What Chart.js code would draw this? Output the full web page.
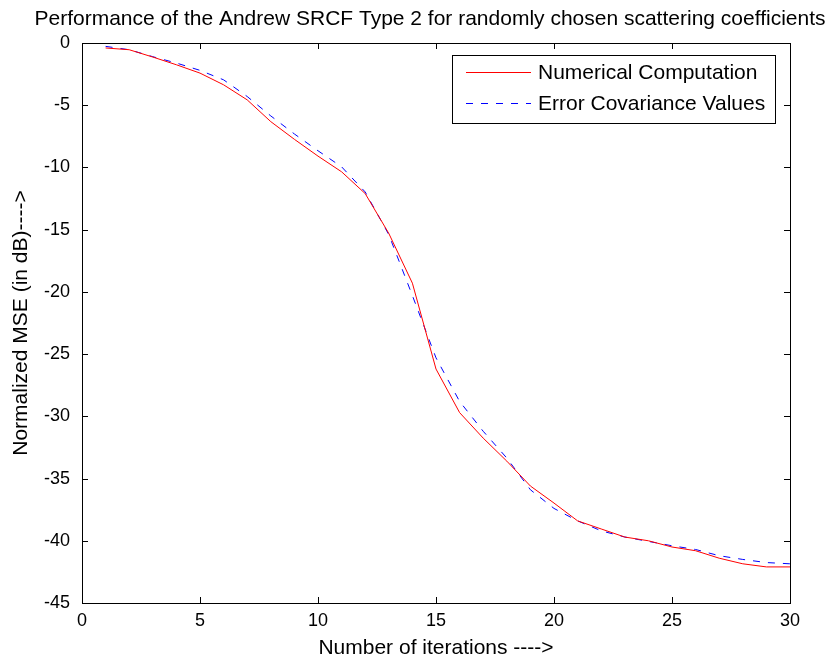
<!DOCTYPE html>
<html lang="en">
<head>
    <meta charset="UTF-8">
    <title>Performance of the Andrew SRCF Type 2</title>
    <script src="https://cdn.jsdelivr.net/npm/chart.js"></script>
    <style>
        body {
            margin: 0;
            background-color: #ffffff;
        }
        #chart-container {
            width: 839px;
            height: 661px;
        }
    </style>
</head>
<body>
    <div id="chart-container">
        <canvas id="mseChart" width="839" height="661"></canvas>
    </div>
    <script>
        // iterations 1..30
        const iterations = [1, 2, 3, 4, 5, 6, 7, 8, 9, 10, 11, 12, 13, 14, 15,
                            16, 17, 18, 19, 20, 21, 22, 23, 24, 25, 26, 27, 28, 29, 30];
        const numericalMse = [-0.4, -0.54, -1.13, -1.75, -2.42, -3.36, -4.57, -6.32, -7.74, -9.09,
                              -10.35, -12.1, -15.3, -19.3, -26.2, -29.7, -31.75, -33.6, -35.6, -36.97,
                              -38.4, -39.05, -39.7, -40.0, -40.5, -40.8, -41.4, -41.85, -42.1, -42.1];
        const covarianceMse = [-0.27, -0.54, -1.1, -1.61, -2.2, -2.96, -4.3, -5.86, -7.31, -8.66,
                               -9.95, -11.97, -15.4, -20.3, -25.3, -28.8, -31.2, -33.35, -35.9, -37.4,
                               -38.4, -39.2, -39.7, -40.05, -40.4, -40.7, -41.2, -41.5, -41.75, -41.85];
        const seriesNames = ['Numerical Computation', 'Error Covariance Values'];
        const xTicks = [0, 5, 10, 15, 20, 25, 30];
        const yTicks = [0, -5, -10, -15, -20, -25, -30, -35, -40, -45];

        const titleText = 'Performance of the Andrew SRCF Type 2 for randomly chosen scattering coefficients';
        const xTitle = 'Number of iterations ---->';
        const yTitle = 'Normalized MSE (in dB)---->';
        const fontFamily = "Arial, 'Liberation Sans', sans-serif";
        const dashPattern = [7, 8];

        function points(ys) {
            return iterations.map((x, i) => ({ x: x, y: ys[i] }));
        }

        // box, inward ticks, title, axis titles and the boxed legend
        const matlabAxes = {
            id: 'matlabAxes',
            afterDatasetsDraw(chart) {
                const c = chart.ctx;
                const a = chart.chartArea;
                const xs = chart.scales.x, ys = chart.scales.y;
                const tl = 6;
                c.save();
                c.strokeStyle = '#000';
                c.lineWidth = 1;
                c.beginPath();
                xTicks.forEach(v => {
                    const px = Math.round(xs.getPixelForValue(v)) + 0.5;
                    c.moveTo(px, a.bottom); c.lineTo(px, a.bottom - tl);
                    c.moveTo(px, a.top); c.lineTo(px, a.top + tl);
                });
                yTicks.forEach(v => {
                    const py = Math.round(ys.getPixelForValue(v)) + 0.5;
                    c.moveTo(a.left, py); c.lineTo(a.left + tl, py);
                    c.moveTo(a.right, py); c.lineTo(a.right - tl, py);
                });
                c.stroke();
                c.strokeRect(Math.round(a.left) + 0.5, Math.round(a.top) + 0.5,
                             Math.round(a.right - a.left), Math.round(a.bottom - a.top));

                c.fillStyle = '#000';
                c.font = '21px ' + fontFamily;
                c.textAlign = 'center';
                c.textBaseline = 'alphabetic';
                c.fillText(titleText, 430, 25);
                c.fillText(xTitle, (a.left + a.right) / 2, 654);
                c.save();
                c.translate(27, (a.top + a.bottom) / 2);
                c.rotate(-Math.PI / 2);
                c.fillText(yTitle, 0, 0);
                c.restore();

                // legend
                const lx = 452, ly = 55, lw = 323, lh = 68;
                c.fillStyle = '#fff';
                c.fillRect(lx, ly, lw, lh);
                c.strokeRect(lx + 0.5, ly + 0.5, lw, lh);
                const rows = [
                    { y: 72.5, color: '#ff0000', dash: [] },
                    { y: 103.5, color: '#0000ff', dash: dashPattern }
                ];
                rows.forEach((r, i) => {
                    c.strokeStyle = r.color;
                    c.setLineDash(r.dash);
                    c.beginPath();
                    c.moveTo(466, r.y); c.lineTo(531, r.y);
                    c.stroke();
                    c.setLineDash([]);
                    c.fillStyle = '#000';
                    c.textAlign = 'left';
                    c.textBaseline = 'middle';
                    c.fillText(seriesNames[i], 538, r.y + 1);
                });
                c.restore();
            }
        };

        const ctx = document.getElementById('mseChart').getContext('2d');
        const config = {
            type: 'line',
            data: {
                datasets: [{
                    label: seriesNames[0],
                    data: points(numericalMse),
                    borderColor: '#ff0000',
                    borderWidth: 1,
                    pointRadius: 0,
                    fill: false,
                    tension: 0
                }, {
                    label: seriesNames[1],
                    data: points(covarianceMse),
                    borderColor: '#0000ff',
                    borderWidth: 1,
                    borderDash: dashPattern,
                    pointRadius: 0,
                    fill: false,
                    tension: 0
                }]
            },
            options: {
                responsive: false,
                animation: false,
                layout: {
                    padding: { left: 22, right: 49, top: 43, bottom: 0 }
                },
                scales: {
                    x: {
                        type: 'linear',
                        min: 0,
                        max: 30,
                        afterBuildTicks: s => { s.ticks = xTicks.map(v => ({ value: v })); },
                        afterFit: s => { s.height = 58; },
                        grid: { display: false, drawTicks: false },
                        border: { display: false },
                        ticks: {
                            padding: 7,
                            color: '#000',
                            font: { family: fontFamily, size: 18 }
                        }
                    },
                    y: {
                        type: 'linear',
                        min: -45,
                        max: 0,
                        afterBuildTicks: s => { s.ticks = yTicks.map(v => ({ value: v })); },
                        afterFit: s => { s.width = 60; },
                        grid: { display: false, drawTicks: false },
                        border: { display: false },
                        ticks: {
                            padding: 12,
                            color: '#000',
                            font: { family: fontFamily, size: 18 }
                        }
                    }
                },
                plugins: {
                    legend: { display: false },
                    tooltip: { enabled: false }
                }
            },
            plugins: [matlabAxes]
        };

        const mseChart = new Chart(ctx, config);
    </script>
</body>
</html>
